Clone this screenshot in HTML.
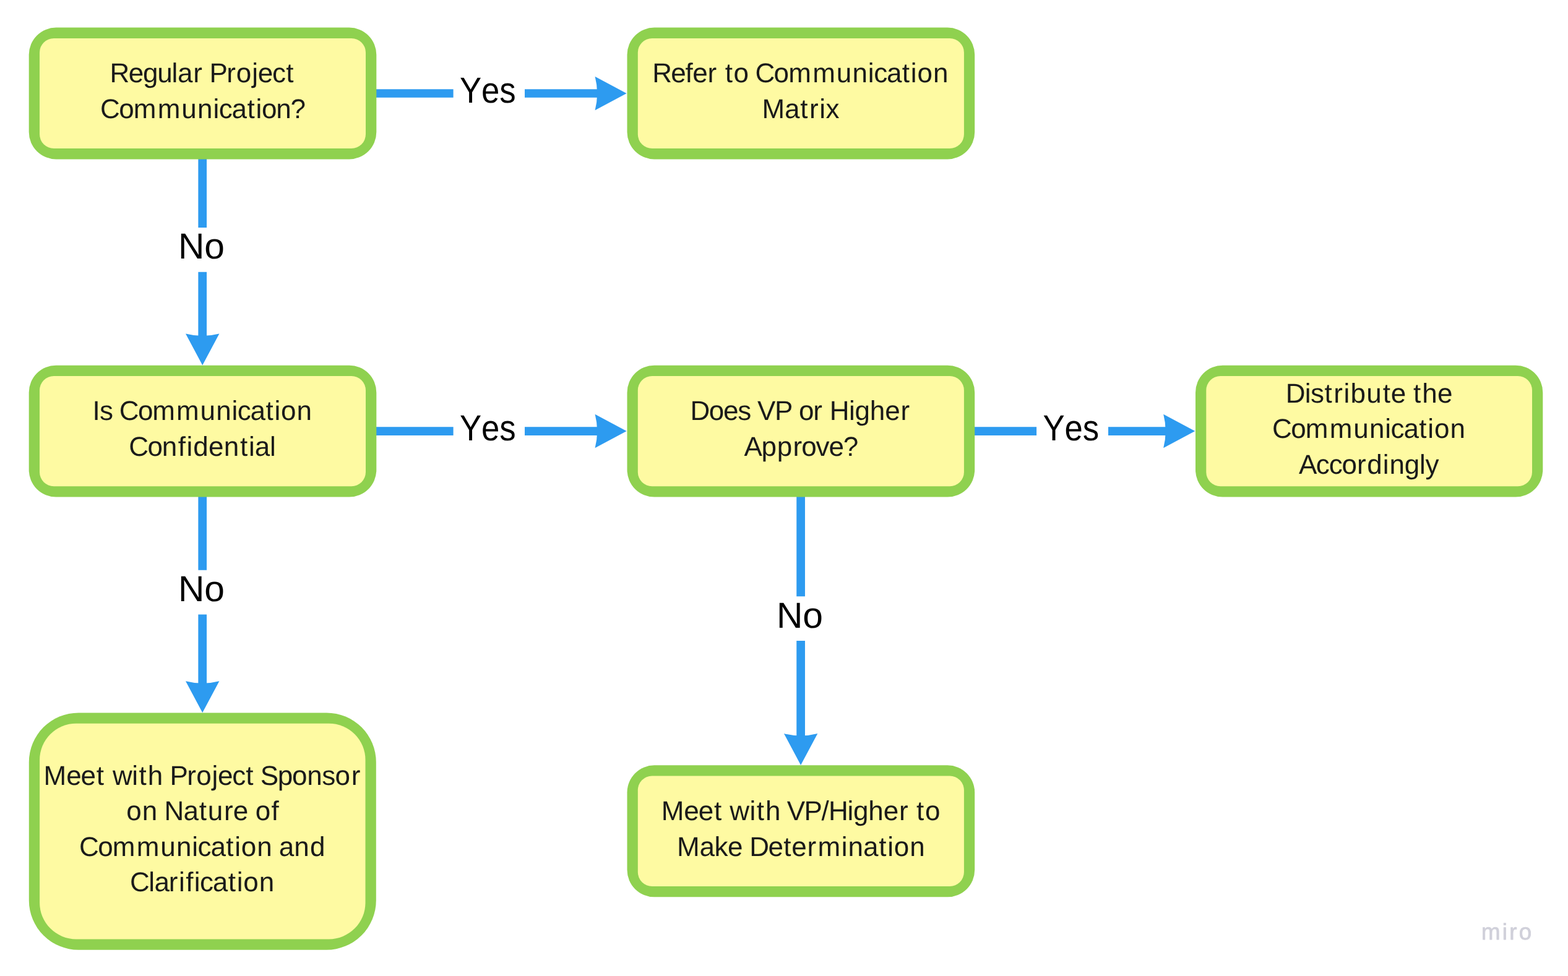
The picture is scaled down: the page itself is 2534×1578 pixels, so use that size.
<!DOCTYPE html>
<html lang="en">
<head>
<meta charset="utf-8">
<title>Communication Decision Flowchart</title>
<style>
html,body{margin:0;padding:0;background:#fff;}
body{width:2534px;height:1578px;}
svg{display:block;will-change:transform;}
text{font-family:"Liberation Sans", sans-serif;text-rendering:geometricPrecision;font-kerning:none;font-variant-ligatures:none;white-space:pre;}
.t{font-size:44px;fill:#1a1a1a;}
.y{font-size:58.7px;fill:#000000;}
.w{font-size:36.7px;fill:#d0d0da;stroke:#d0d0da;stroke-width:0.8px;stroke-linejoin:round;}
.b{fill:#fefaa2;}
.g{fill:#8fd14f;}
.l{stroke:#2d9bf0;stroke-width:13.7;fill:none;}
.a{fill:#2d9bf0;}
</style>
</head>
<body>
<svg width="2534" height="1578" viewBox="0 0 2534 1578">
<rect x="0" y="0" width="2534" height="1578" fill="#ffffff"/>
<g class="connectors">
<path class="l" d="M608 151 H732.6 M848 151 H966.1"/>
<path class="a" d="M1012.6 151 L961.6 123.8 Q968.6 151 961.6 178.2 Z"/>
<path class="l" d="M608 697.05 H732.6 M848 697.05 H966.1"/>
<path class="a" d="M1012.6 697.05 L961.6 669.85 Q968.6 697.05 961.6 724.25 Z"/>
<path class="l" d="M1575 697.05 H1675.1 M1791 697.05 H1884.7"/>
<path class="a" d="M1931.2 697.05 L1880.2 669.85 Q1887.2 697.05 1880.2 724.25 Z"/>
<path class="l" d="M327.2 257 V367.9 M327.2 439.8 V544"/>
<path class="a" d="M327.2 590.5 L300 539.5 Q327.2 546.5 354.4 539.5 Z"/>
<path class="l" d="M327.2 803 V921.7 M327.2 993.6 V1105.8"/>
<path class="a" d="M327.2 1152.3 L300 1101.3 Q327.2 1108.3 354.4 1101.3 Z"/>
<path class="l" d="M1294.1 803 V964.2 M1294.1 1036 V1190.5"/>
<path class="a" d="M1294.1 1237 L1266.9 1186 Q1294.1 1193 1321.3 1186 Z"/>
</g>
<g class="nodes">
<rect class="g" x="46.7" y="44.6" width="561.6" height="212.8" rx="44"/><rect class="b" x="64" y="61.9" width="527" height="178.2" rx="23"/>
<rect class="g" x="1013.5" y="44.6" width="561.7" height="212.8" rx="44"/><rect class="b" x="1030.8" y="61.9" width="527.1" height="178.2" rx="23"/>
<rect class="g" x="46.7" y="590.7" width="561.6" height="212.9" rx="44"/><rect class="b" x="64" y="608" width="527" height="178.3" rx="23"/>
<rect class="g" x="1013.5" y="590.7" width="561.7" height="212.9" rx="44"/><rect class="b" x="1030.8" y="608" width="527.1" height="178.3" rx="23"/>
<rect class="g" x="1932" y="590.7" width="561.3" height="212.9" rx="44"/><rect class="b" x="1949.3" y="608" width="526.7" height="178.3" rx="23"/>
<rect class="g" x="46.8" y="1152.4" width="561" height="383.3" rx="80"/><rect class="b" x="64.1" y="1169.7" width="526.4" height="348.7" rx="59"/>
<rect class="g" x="1013.5" y="1237.3" width="561.7" height="213" rx="44"/><rect class="b" x="1030.8" y="1254.6" width="527.1" height="178.4" rx="23"/>
</g>
<g class="node-text">
<text class="t" y="133" x="177.47 207.65 230.9 254.15 277.44 287.07 312.22 326.87 338.41 366.29 381.85 407.18 416.79 440.04 462.2">Regular Project</text>
<text class="t" y="191" x="162.01 192.2 215.77 254.82 293.32 319.08 344.4 353.69 374.59 399.45 413.39 422.97 446.22 469.47">Communication?</text>
<text class="t" y="133" x="1054.15 1084.33 1107.58 1119.19 1143.6 1158.25 1171.67 1185.61 1210.08 1220.38 1250.56 1274.36 1313.37 1351.83 1377.57 1402.85 1412.13 1433.03 1457.85 1471.78 1482.4 1507.93">Refer to Communication</text>
<text class="t" y="191" x="1231.38 1268.06 1293.24 1307.98 1324.27 1334.45">Matrix</text>
<text class="t" y="679" x="149.39 161 183 192.78 222.97 246.21 284.95 323.42 349.15 374.44 383.72 404.62 429.45 443.38 454 479.53">Is Communication</text>
<text class="t" y="737" x="208.31 238.49 261.74 287.78 301.44 312.3 336.98 361.67 388.12 402.09 411.75 436.11">Confidential</text>
<text class="t" y="679" x="1115.57 1145.76 1169.01 1192.25 1214.25 1224.03 1251.91 1281.26 1291.04 1314.29 1328.94 1340.82 1372.01 1381.41 1405.7 1430.27 1455.45">Does VP or Higher</text>
<text class="t" y="737" x="1202.59 1230.47 1255.79 1281.41 1295.33 1318.58 1339.48 1362.73">Approve?</text>
<text class="t" y="651" x="2077.73 2108.83 2118.11 2140.42 2155.21 2171.55 2182.4 2208.19 2234.63 2247.72 2272.2 2283.98 2298.19 2322.88">Distribute the</text>
<text class="t" y="708" x="2056.11 2086.29 2109.81 2148.83 2187.3 2213.04 2238.32 2247.61 2268.51 2293.34 2307.27 2317.89 2343.43">Communication</text>
<text class="t" y="766" x="2098.94 2126.82 2147.72 2168.62 2192.9 2209.33 2234.78 2245.54 2269.82 2293.9 2303.61">Accordingly</text>
<text class="t" y="1269" x="70.45 107.15 130.61 155.85 168.08 181.99 213.14 224.59 238.68 263.15 274.48 302.36 317.26 342.53 352.04 375.29 397.35 409.58 420.82 448.7 471.95 496.15 520.2 541.57 567.65">Meet with Project Sponsor</text>
<text class="t" y="1326" x="204.2 229.68 254.15 265.51 296.57 321.72 335.82 362.11 376.68 401.15 412.73 438.58">on Nature of</text>
<text class="t" y="1384" x="128.1 158.29 181.78 220.77 259.22 284.95 310.22 319.51 340.41 365.22 379.14 389.76 415.28 439.75 450.69 475.21 500.92">Communication and</text>
<text class="t" y="1441" x="210.1 240.28 249.57 272.82 289.03 300.23 313.65 322.93 343.83 368.69 382.63 393.27 418.82">Clarification</text>
<text class="t" y="1326" x="1068.65 1105.36 1128.83 1154.07 1166.3 1179.13 1211.38 1222.83 1236.93 1261.4 1271.68 1299.56 1327.44 1339.05 1369.58 1378.98 1403.28 1427.85 1453.04 1467.69 1481.04 1494.93">Meet with VP/Higher to</text>
<text class="t" y="1384" x="1093.88 1130.55 1154.45 1175.89 1200.36 1211.37 1241.56 1266.22 1279.25 1304.47 1321.52 1359.76 1370.58 1395.1 1420.28 1434.2 1444.81 1470.34">Make Determination</text>
</g>
<g class="connector-labels">
<text class="y" y="166" x="742.94" textLength="90.76" lengthAdjust="spacingAndGlyphs">Yes</text>
<text class="y" y="712" x="742.94" textLength="90.76" lengthAdjust="spacingAndGlyphs">Yes</text>
<text class="y" y="712" x="1685.44" textLength="90.76" lengthAdjust="spacingAndGlyphs">Yes</text>
<text class="y" y="418" x="287.88" textLength="75.08" lengthAdjust="spacingAndGlyphs">No</text>
<text class="y" y="972" x="287.88" textLength="75.08" lengthAdjust="spacingAndGlyphs">No</text>
<text class="y" y="1015" x="1254.88" textLength="75.08" lengthAdjust="spacingAndGlyphs">No</text>
</g>
<text class="w" y="1519" x="2393.96 2427.68 2439.33 2454.84">miro</text>
</svg>
</body>
</html>
